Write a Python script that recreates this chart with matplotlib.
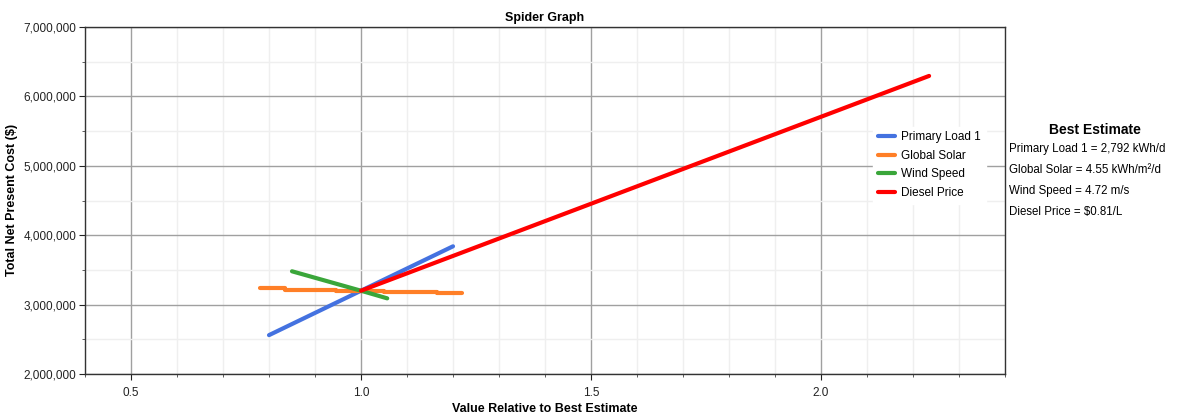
import matplotlib
matplotlib.use("Agg")
import matplotlib.pyplot as plt
from matplotlib.ticker import MultipleLocator, FuncFormatter
from matplotlib import font_manager

# familia condensada si existe
nombres = {f.name for f in font_manager.fontManager.ttflist}
fuente = "Liberation Sans Narrow" if "Liberation Sans Narrow" in nombres else "Liberation Sans"
plt.rcParams['font.family'] = [fuente, 'DejaVu Sans']

# Datos
carga_x = [0.8, 1.0, 1.2]
carga_y = [2560000, 3200000, 3840000]

solar_x = [0.78, 0.835, 0.835, 0.945, 0.945, 1.05, 1.05, 1.165, 1.165, 1.22]
solar_y = [3235000, 3235000, 3215000, 3215000, 3195000, 3195000, 3178000, 3178000, 3163000, 3163000]

viento_x = [0.85, 1.0, 1.057]
viento_y = [3480000, 3200000, 3090000]

diesel_x = [1.0, 2.235]
diesel_y = [3200000, 6295000]

series = [
    ("Primary Load 1", carga_x, carga_y, "#4472e0"),
    ("Global Solar", solar_x, solar_y, "#ff7f27"),
    ("Wind Speed", viento_x, viento_y, "#3aa63a"),
    ("Diesel Price", diesel_x, diesel_y, "#ff0000"),
]

estimacion = [
    "Primary Load 1 = 2,792 kWh/d",
    "Global Solar = 4.55 kWh/m²/d",
    "Wind Speed = 4.72 m/s",
    "Diesel Price = $0.81/L",
]

fig = plt.figure(figsize=(11.83, 4.18), dpi=100)
ax = fig.add_axes([85 / 1183, 1 - 374 / 418, 920 / 1183, 347 / 418])

for nombre, xs, ys, color in series:
    ax.plot(xs, ys, color=color, lw=3, label=nombre, solid_capstyle='round')

ax.set_xlim(0.4, 2.4)
ax.set_ylim(2000000, 7000000)
ax.xaxis.set_major_locator(MultipleLocator(0.5))
ax.xaxis.set_minor_locator(MultipleLocator(0.1))
ax.yaxis.set_major_locator(MultipleLocator(1000000))
ax.yaxis.set_minor_locator(MultipleLocator(500000))
ax.yaxis.set_major_formatter(FuncFormatter(lambda v, p: f"{int(v):,}"))
ax.xaxis.set_major_formatter(FuncFormatter(lambda v, p: f"{v:.1f}"))

ax.grid(which='major', color='#a0a0a0', lw=1)
ax.grid(which='minor', color='#efefef', lw=1)
ax.set_axisbelow(True)
ax.tick_params(which='major', length=4, labelsize=8.5, colors='#222222', direction='out')
ax.tick_params(which='minor', length=2, color='#444444', direction='out')
ax.tick_params(axis='y', pad=2)
ax.tick_params(axis='x', pad=5)
for s in ax.spines.values():
    s.set_color('#333333')
    s.set_linewidth(1)

ax.set_title("Spider Graph", fontsize=9, fontweight='bold', pad=4)
ax.set_xlabel("Value Relative to Best Estimate", fontsize=9, fontweight='bold', labelpad=3)
fig.text(12 / 1183, 1 - 200 / 418, "Total Net Present Cost ($)", fontsize=9,
         fontweight='bold', rotation=90, ha='center', va='center')

leg = ax.legend(loc='upper left', bbox_to_anchor=(0.85, 0.73), frameon=True,
                fontsize=8.5, handlelength=1.5, labelspacing=0.55, borderpad=0.4,
                handletextpad=0.5)
leg.get_frame().set_edgecolor('white')
leg.get_frame().set_alpha(1)
leg.get_frame().set_boxstyle('square', pad=0)

fig.text(1095 / 1183, 1 - 130 / 418, "Best Estimate", fontsize=10, fontweight='bold',
         ha='center', va='center')
for i, linea in enumerate(estimacion):
    fig.text(1009 / 1183, 1 - (149 + i * 21) / 418, linea, fontsize=8.3,
             ha='left', va='center')

fig.savefig("out.png", dpi=100)
